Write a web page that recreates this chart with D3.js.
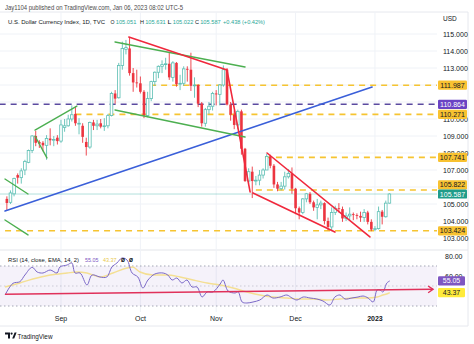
<!DOCTYPE html>
<html><head><meta charset="utf-8">
<script src="https://cdn.jsdelivr.net/npm/d3@7"></script>
<style>
html,body{margin:0;padding:0;background:#fff;}
svg{display:block;font-family:"Liberation Sans",Arial,sans-serif;}
</style></head>
<body>
<svg id="c" width="474" height="344"></svg>
<script>
// ---------------- DATA ----------------
const dates = ["2022-08-11","2022-08-12","2022-08-15","2022-08-16","2022-08-17","2022-08-18","2022-08-19",
"2022-08-22","2022-08-23","2022-08-24","2022-08-25","2022-08-26","2022-08-29","2022-08-30","2022-08-31",
"2022-09-01","2022-09-02","2022-09-05","2022-09-06","2022-09-07","2022-09-08","2022-09-09","2022-09-12",
"2022-09-13","2022-09-14","2022-09-15","2022-09-16","2022-09-19","2022-09-20","2022-09-21","2022-09-22",
"2022-09-23","2022-09-26","2022-09-27","2022-09-28","2022-09-29","2022-09-30","2022-10-03","2022-10-04",
"2022-10-05","2022-10-06","2022-10-07","2022-10-10","2022-10-11","2022-10-12","2022-10-13","2022-10-14",
"2022-10-17","2022-10-18","2022-10-19","2022-10-20","2022-10-21","2022-10-24","2022-10-25","2022-10-26",
"2022-10-27","2022-10-28","2022-10-31","2022-11-01","2022-11-02","2022-11-03","2022-11-04","2022-11-07",
"2022-11-08","2022-11-09","2022-11-10","2022-11-11","2022-11-14","2022-11-15","2022-11-16","2022-11-17",
"2022-11-18","2022-11-21","2022-11-22","2022-11-23","2022-11-24","2022-11-25","2022-11-28","2022-11-29",
"2022-11-30","2022-12-01","2022-12-02","2022-12-05","2022-12-06","2022-12-07","2022-12-08","2022-12-09",
"2022-12-12","2022-12-13","2022-12-14","2022-12-15","2022-12-16","2022-12-19","2022-12-20","2022-12-21",
"2022-12-22","2022-12-23","2022-12-26","2022-12-27","2022-12-28","2022-12-29","2022-12-30","2023-01-02",
"2023-01-03","2023-01-04","2023-01-05","2023-01-06"];
const open  = [105.30,105.10,105.60,106.70,106.55,107.00,107.45,108.15,109.00,108.65,108.60,108.45,108.85,108.75,108.90,
108.70,109.50,109.60,110.00,110.30,109.70,109.60,108.65,108.35,109.80,109.60,109.75,109.55,109.60,110.20,111.50,
111.25,113.15,114.10,114.15,112.70,112.15,112.10,111.60,110.20,111.20,112.20,112.75,113.10,113.20,113.25,112.45,
113.30,112.05,112.10,112.95,112.90,111.95,112.00,110.90,109.75,110.55,110.75,111.50,111.45,112.00,112.90,110.85,
110.25,109.65,110.45,108.25,106.35,106.90,106.35,106.40,106.70,107.00,107.80,107.25,106.15,105.90,106.05,106.60,
106.80,105.90,104.75,104.50,105.30,105.60,105.10,104.80,104.95,105.05,104.00,103.65,104.50,104.75,104.70,104.15,
104.30,104.40,104.35,104.30,104.20,104.50,103.95,103.50,103.55,104.55,104.25,105.051];
const high  = [105.45,105.80,106.55,106.80,107.10,107.60,108.20,109.05,109.30,108.75,108.70,109.05,109.45,109.00,109.05,
109.95,110.00,110.25,110.80,110.75,110.05,109.75,108.90,109.85,109.95,109.95,110.00,110.05,110.30,111.60,111.70,
113.30,114.55,114.65,114.80,113.00,112.90,112.50,111.70,111.60,112.25,112.80,113.15,113.45,113.60,113.90,113.40,
113.35,112.60,113.10,113.10,113.90,112.45,112.05,111.00,110.65,111.00,111.60,111.70,112.05,113.15,113.00,111.00,
110.50,110.55,110.55,108.30,107.10,107.20,106.65,107.00,107.10,107.95,107.90,107.35,106.30,106.30,106.90,107.05,
107.15,105.95,104.85,105.35,105.65,105.70,105.20,105.30,105.20,105.10,104.20,104.80,104.90,105.05,104.85,104.50,
104.80,104.50,104.45,104.55,104.70,104.60,104.10,103.70,104.85,104.65,105.20,105.631];
const low   = [104.65,105.00,105.45,106.20,106.20,106.70,107.40,108.00,108.40,108.30,108.10,107.60,108.45,108.40,108.50,
108.60,109.25,109.55,109.85,109.60,109.10,108.60,107.85,108.25,109.35,109.35,109.45,109.30,109.45,110.15,110.90,
111.20,112.90,113.80,112.55,111.60,111.85,111.50,110.05,110.10,111.05,111.95,112.40,112.70,112.90,112.30,112.20,
111.90,111.70,111.95,112.20,111.65,111.25,110.70,109.55,109.55,110.30,110.50,110.80,110.80,111.90,110.80,109.90,
109.40,109.40,107.90,106.30,106.20,105.35,106.10,106.10,106.50,107.00,107.10,105.95,105.75,105.80,105.85,106.50,
105.60,104.40,104.10,104.40,105.10,105.00,104.60,104.10,104.70,103.80,103.45,103.40,104.35,104.50,103.95,104.00,
104.00,104.05,104.10,103.95,103.95,103.80,103.40,103.40,103.50,103.80,104.20,105.022];
const close = [105.06,105.65,106.50,106.55,106.95,107.50,108.15,109.00,108.60,108.55,108.45,108.85,108.75,108.80,108.70,
109.65,109.60,110.00,110.25,109.75,109.75,108.95,108.35,109.80,109.60,109.70,109.55,109.60,110.20,111.50,111.20,
113.15,114.15,114.20,112.70,112.15,112.10,111.60,110.20,111.20,112.20,112.75,113.10,113.20,113.25,112.45,113.30,
112.05,112.10,112.95,112.90,111.95,112.00,110.90,109.75,110.55,110.75,111.50,111.45,112.00,112.90,110.85,110.25,
109.65,110.45,108.25,106.35,106.90,106.35,106.40,106.70,107.00,107.80,107.25,106.15,105.90,106.05,106.60,106.80,
105.90,104.75,104.50,105.30,105.60,105.10,104.80,104.95,105.05,104.00,103.65,104.50,104.75,104.70,104.15,104.30,
104.40,104.35,104.30,104.20,104.50,103.95,103.50,103.55,104.55,104.25,105.05,105.587];

const priceTicks = [103,104,105,106,107,108,109,110,111,112,113,114,115];
const monthLabels = ["Sep","Oct","Nov","Dec","2023"];
const monthStarts = ["2022-09-01","2022-10-03","2022-11-01","2022-12-01","2023-01-02"];

// horizontal levels: value, start bar, colour kind
const levelValues = [111.987, 110.864, 110.271, 107.741, 105.822, 103.424];
const levelStart  = [39.7, -2, 19, 71.5, 69, -0.5];
const levelKind   = ["y","p","y","y","y","y"];

// trend lines: [bar1, price1, bar2, price2]
const greenLines = [[-0.52,106.47,5.86,105.59],[-0.52,104.06,5.86,103.18],[7.8,109.35,19.4,110.76],[7.8,109.0,11.1,107.71],
  [29.97,114.53,66.0,113.06],[29.97,110.53,66.0,108.94]];
const redLines = [[33.8,114.82,61.0,112.88],[61.0,112.88,67.4,105.71],[72.1,108.0,100.6,103.06],[68.2,105.65,90.9,103.35]];
const blueLines = [[-0.52,104.59,101.2,111.88]];

// RSI
const rsiBar = [-0.5,1.7,3.6,5,7,8.4,10,12,13.9,14.7,16.7,18,18.9,20.3,22.2,23.6,25.8,27.7,29.1,30.5,31.9,33.3,34.7,36.3,37.7,39.1,41,
 43.3,44.6,45.8,47.1,48.5,49.9,51.3,52.7,54.1,55.5,57.1,59.1,59.9,61.3,63.2,64.1,65.2,66.5,68.2,70.1,72.1,73.7,75.7,77.6,79,80.4,
 82.1,84,85.9,87.6,89.5,90.9,92.3,93.7,95.6,97.3,98.7,100.1,101.5,102.6,103.4,104.2,105.3,106.1];
const rsiVal = [41,52.7,54.3,61,68.7,64,63,66,63,69,71,73,63,63,51,61,59,59,69,73,78,76,63,59,48,56,62,
 63,61,56,58,53,56,49,49,39,44,44,52,56,45,43,44,34,33,34,36,41,38,39,41,38,36,
 39,38,37,35,31,39,41,37,38,39,40,38,34,46,46,44,53,55.05];
const emaBar = [-0.5,3.6,7.2,12,16.7,19.4,22.2,25.8,29.4,33.3,34.8,36.9,40.5,44.4,48,51.6,55.5,59.1,62.7,66.5,70.1,73.7,77.6,81.2,84.8,88.7,92.3,95.9,99.8,102.6,104.2,105.6,106.1];
const emaVal = [49,53,57,61,63,64,63,59,63,68,69,64,61,61,59,56,53,51,48,44,41,39,38,37,37,36,37,38,38,39,41,42.5,43.37];
const rsiArrow = [-0.52,41.7,118.1,46.7];
const rsiTicks = [40,60,80];

// ---------------- DRAW ----------------
const svg = d3.select("#c");
const paneR = 437, axisR = 468;
const pTop = 12, pBot = 250, rTop = 250, rBot = 312, tBot = 326;

const x = d3.scaleLinear().domain([0, 106]).range([6.86, 389.4]);
const y = d3.scaleLinear().domain([103, 115]).range([238, 34]);
const yr = d3.scaleLinear().domain([30, 80]).range([306, 256]);

const defs = svg.append("defs");
defs.append("clipPath").attr("id","cp").append("rect").attr("x",0).attr("y",pTop).attr("width",paneR).attr("height",pBot-pTop);
defs.append("clipPath").attr("id","cr").append("rect").attr("x",0).attr("y",rTop).attr("width",paneR).attr("height",rBot-rTop);

const grid = "#eff2f7";
// frames
svg.append("line").attr("x1",0).attr("x2",axisR).attr("y1",pTop).attr("y2",pTop).attr("stroke","#e6e8ee");
svg.append("line").attr("x1",axisR).attr("x2",axisR).attr("y1",pTop).attr("y2",tBot).attr("stroke","#e6e8ee");
svg.append("line").attr("x1",0).attr("x2",axisR).attr("y1",pBot).attr("y2",pBot).attr("stroke","#e3e5ea");
svg.append("line").attr("x1",0).attr("x2",axisR).attr("y1",tBot).attr("y2",tBot).attr("stroke","#e6e8ee");

// grids
const monthIdx = monthStarts.map(d => dates.indexOf(d));
const gP = svg.append("g").attr("clip-path","url(#cp)");
gP.selectAll("line.h").data(priceTicks).join("line").attr("x1",0).attr("x2",paneR)
  .attr("y1",d=>y(d)).attr("y2",d=>y(d)).attr("stroke",grid);
gP.selectAll("line.v").data(monthIdx).join("line").attr("x1",d=>x(d)).attr("x2",d=>x(d))
  .attr("y1",pTop).attr("y2",pBot).attr("stroke",grid);
const gR = svg.append("g").attr("clip-path","url(#cr)");
gR.selectAll("line.v").data(monthIdx).join("line").attr("x1",d=>x(d)).attr("x2",d=>x(d))
  .attr("y1",rTop).attr("y2",rBot).attr("stroke",grid);

// last price line
const last = close[close.length-1];
gP.append("line").attr("x1",0).attr("x2",paneR).attr("y1",y(last)).attr("y2",y(last))
  .attr("stroke","#26a69a").attr("stroke-opacity",0.35).attr("stroke-width",1);

// level lines
const levelColor = k => k === "p" ? "#5a4aa0" : "#f6c431";
levelValues.forEach((v,i) => {
  gP.append("line").attr("x1",x(levelStart[i])).attr("x2",paneR).attr("y1",y(v)).attr("y2",y(v))
    .attr("stroke",levelColor(levelKind[i])).attr("stroke-width",1.6).attr("stroke-dasharray","6,5");
});

// candles
const dn = "#ec3540", upLine = "#5dbfb4";
const cg = gP.append("g");
const bw = 2.6;
dates.forEach((d,i) => {
  const isUp = close[i] >= open[i];
  cg.append("line").attr("x1",x(i)).attr("x2",x(i)).attr("y1",y(high[i])).attr("y2",y(low[i]))
    .attr("stroke", isUp ? upLine : dn).attr("stroke-width",0.9);
  const top = y(Math.max(open[i],close[i])), bot = y(Math.min(open[i],close[i]));
  cg.append("rect").attr("x",x(i)-bw/2).attr("y",top).attr("width",bw).attr("height",Math.max(0.8,bot-top))
    .attr("fill", isUp ? "#ffffff" : dn).attr("stroke", isUp ? upLine : "none").attr("stroke-width",0.8);
});

// trend lines
function drawLines(arr, color, w) {
  gP.selectAll(null).data(arr).join("line")
    .attr("x1",d=>x(d[0])).attr("y1",d=>y(d[1])).attr("x2",d=>x(d[2])).attr("y2",d=>y(d[3]))
    .attr("stroke",color).attr("stroke-width",w).attr("stroke-linecap","round");
}
drawLines(blueLines, "#3a5fd9", 1.6);
drawLines(greenLines, "#4caf50", 1.4);
drawLines(redLines, "#f0283c", 1.6);

// ---- price axis labels (ticks fully hidden under a tag are not drawn)
const tagH = 9.2;
const lastY = y(last);
const tagPos = levelValues.map(v => {
  const ty = y(v);
  if (Math.abs(ty - lastY) < tagH) return ty < lastY ? lastY - tagH : lastY + tagH;
  return ty;
});
const tagYs = levelValues.map(v => y(v)).concat([lastY]);
const visibleTicks = priceTicks.filter(t => tagYs.every(ty => Math.abs(ty - y(t)) > 4));
const ax = svg.append("g").attr("font-size",7).attr("fill","#131722");
ax.append("text").attr("x",443).attr("y",21).text("USD").attr("font-size",6.5);
ax.selectAll("text.t").data(visibleTicks).join("text").attr("x",443).attr("y",d=>y(d)+2.5).text(d=>d.toFixed(3));

function tag(v, yy, bg, fg) {
  const g = svg.append("g");
  g.append("rect").attr("x",438).attr("y",yy-tagH/2).attr("width",29).attr("height",tagH).attr("rx",1.2).attr("fill",bg);
  g.append("text").attr("x",452.5).attr("y",yy+2.5).attr("text-anchor","middle").attr("font-size",7).attr("fill",fg).text(v);
}
levelValues.forEach((v,i) => tag(v.toFixed(3), tagPos[i], levelKind[i]==="p" ? "#6a43c4" : "#f8c231", levelKind[i]==="p" ? "#fff" : "#131722"));
tag(last.toFixed(3), lastY, "#1f9c8a", "#fff");

// ---- RSI pane
gR.append("rect").attr("x",0).attr("width",paneR).attr("y",yr(70)).attr("height",yr(30)-yr(70))
  .attr("fill","#7e57c2").attr("fill-opacity",0.08);
[70,50,30].forEach(v => gR.append("line").attr("x1",0).attr("x2",paneR).attr("y1",yr(v)).attr("y2",yr(v))
  .attr("stroke","#a3a6b4").attr("stroke-width",1).attr("stroke-dasharray","1.5,2.5").attr("stroke-opacity", v===50?0.5:1));

const emaLine = d3.line().x((d,i)=>x(emaBar[i])).y(d=>yr(d)).curve(d3.curveMonotoneX);
gR.append("path").attr("d",emaLine(emaVal)).attr("fill","none").attr("stroke","#f4df93").attr("stroke-width",1.4);
const rsiLine = d3.line().x((d,i)=>x(rsiBar[i])).y(d=>yr(d)).curve(d3.curveCatmullRom.alpha(0.5));
gR.append("path").attr("d",rsiLine(rsiVal)).attr("fill","none").attr("stroke","#7b68c8").attr("stroke-width",1);

// red arrow
const ax1 = x(rsiArrow[0]), ay1 = yr(rsiArrow[1]), ax2 = x(rsiArrow[2]), ay2 = yr(rsiArrow[3]);
svg.append("line").attr("x1",ax1).attr("y1",ay1).attr("x2",ax2).attr("y2",ay2).attr("stroke","#e0315a").attr("stroke-width",1.6);
const ang = Math.atan2(ay2-ay1, ax2-ax1), L = 6;
svg.append("path").attr("d", `M${ax2-L*Math.cos(ang-0.6)},${ay2-L*Math.sin(ang-0.6)} L${ax2},${ay2} L${ax2-L*Math.cos(ang+0.6)},${ay2-L*Math.sin(ang+0.6)}`)
  .attr("fill","none").attr("stroke","#e0315a").attr("stroke-width",1.4);

// RSI axis (ticks hidden under a tag are not drawn)
const rsiTagYs = [yr(rsiVal[rsiVal.length-1]), yr(emaVal[emaVal.length-1])];
const rsiVisible = rsiTicks.filter(t => rsiTagYs.every(ty => Math.abs(ty - yr(t)) > 4));
svg.append("g").attr("font-size",7).attr("fill","#131722").selectAll("text").data(rsiVisible).join("text")
  .attr("x",445).attr("y",d=>yr(d)+2.5).text(d=>d.toFixed(2));
function rtag(v, bg, fg) {
  svg.append("rect").attr("x",438).attr("y",yr(v)-tagH/2).attr("width",27).attr("height",tagH).attr("rx",1.2).attr("fill",bg);
  svg.append("text").attr("x",451.5).attr("y",yr(v)+2.5).attr("text-anchor","middle").attr("font-size",7).attr("fill",fg).text(v.toFixed(2));
}
rtag(rsiVal[rsiVal.length-1], "#7e57c2", "#fff");
rtag(emaVal[emaVal.length-1], "#ffeb3b", "#131722");

// time axis
svg.append("g").attr("font-size",7).attr("fill","#131722").selectAll("text").data(monthLabels).join("text")
  .attr("x",(d,i)=>x(monthIdx[i])).attr("y",321).attr("text-anchor","middle")
  .attr("font-weight",(d,i)=> i===4 ? "bold" : "normal").text(d=>d);

// ---- headers
function fitText(str, x0, width, yy, size, color, weight) {
  return svg.append("text").attr("x",x0).attr("y",yy).attr("font-size",size).attr("fill",color)
    .attr("font-weight",weight || "normal")
    .attr("textLength",width).attr("lengthAdjust","spacingAndGlyphs").text(str);
}
fitText("Jay1104 published on TradingView.com, Jan 06, 2023 08:02 UTC-5", 5, 178, 9.8, 7.6, "#4a4a4a");
const teal = "#2aa897";
const hs = 5.7;
fitText("U.S. Dollar Currency Index, 1D, TVC", 8, 97, 23.5, hs, "#131722");
const ohlc = [["O",110.6,"105.051"],["H",140.0,"105.631"],["L",167.6,"105.022"],["C",195.0,"105.587"]];
ohlc.forEach(p => {
  fitText(p[0], p[1], 4, 23.5, hs, "#131722");
  fitText(p[2], p[1]+5.2, 20.5, 23.5, hs, teal);
});
fitText("+0.438 (+0.42%)", 223, 42, 23.5, hs, teal);

// RSI legend
const ls = 5.6;
fitText("RSI (14, close, EMA, 14, 2)", 8, 71, 261.5, ls, "#131722");
fitText("55.05", 85, 13.5, 261.5, ls, "#7e57c2");
fitText("43.37", 103, 13.5, 261.5, ls, "#e8c84a");
fitText("ø", 121, 4, 261.5, ls+1, "#131722", "bold");
fitText("ø", 129, 4, 261.5, ls+1, "#131722", "bold");

// TradingView logo
const lg = svg.append("g");
lg.append("path").attr("d","M5,332.5 h5 v6 h-2 v-4 h-3 z").attr("fill","#131722");
lg.append("circle").attr("cx",11.6).attr("cy",333.6).attr("r",1.1).attr("fill","#131722");
lg.append("path").attr("d","M12.2,338.5 l2.4,-6 h2 l-2.4,6 z").attr("fill","#131722");
fitText("TradingView", 17.5, 35, 338.6, 8, "#131722");
</script>
</body></html>
